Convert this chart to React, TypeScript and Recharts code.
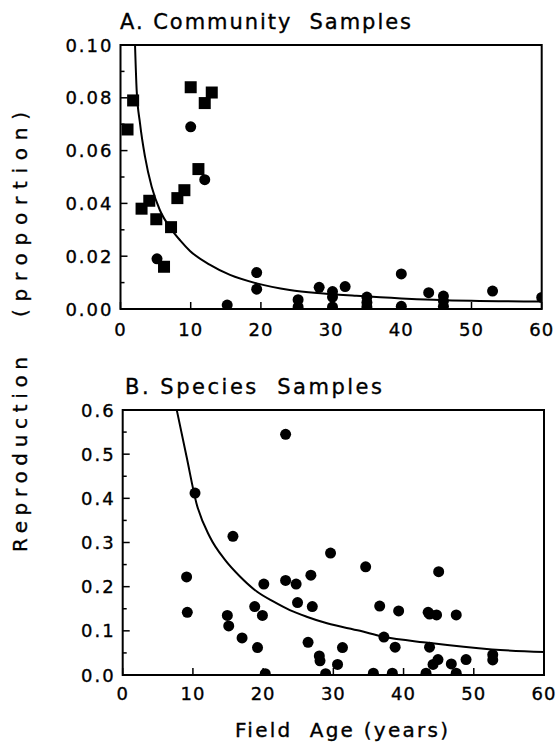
import React from "react";
import { ComposedChart, Scatter, Line, XAxis, YAxis, ReferenceArea } from "recharts";

const FONT = "'DejaVu Sans', sans-serif";

// ---- ticks ----
const xTicks = [0, 10, 20, 30, 40, 50, 60];
const xTickLabels = ["0", "10", "20", "30", "40", "50", "60"];

const yTicksA = [0, 0.01, 0.02, 0.03, 0.04, 0.05, 0.06, 0.07, 0.08, 0.09, 0.1];
const yMajorA = [0, 0.02, 0.04, 0.06, 0.08, 0.1];
const yLabelsA = ["0.00", "0.02", "0.04", "0.06", "0.08", "0.10"];

const yTicksB = [0, 0.05, 0.1, 0.15, 0.2, 0.25, 0.3, 0.35, 0.4, 0.45, 0.5, 0.55, 0.6];
const yMajorB = [0, 0.1, 0.2, 0.3, 0.4, 0.5, 0.6];
const yLabelsB = ["0.0", "0.1", "0.2", "0.3", "0.4", "0.5", "0.6"];

// ---- Panel A: community samples ----
const squaresA = [
  { x: 1.0, y: 0.068 }, { x: 1.8, y: 0.079 }, { x: 3.0, y: 0.038 }, { x: 4.1, y: 0.041 },
  { x: 5.1, y: 0.034 }, { x: 6.2, y: 0.016 }, { x: 7.2, y: 0.031 }, { x: 8.1, y: 0.042 },
  { x: 9.1, y: 0.045 }, { x: 10.0, y: 0.084 }, { x: 11.1, y: 0.053 }, { x: 12.0, y: 0.078 },
  { x: 13.0, y: 0.082 },
];
const circlesA = [
  { x: 5.2, y: 0.019 }, { x: 10.0, y: 0.069 }, { x: 12.0, y: 0.049 }, { x: 15.2, y: 0.0015 },
  { x: 19.4, y: 0.0138 }, { x: 19.4, y: 0.0075 }, { x: 25.3, y: 0.0035 }, { x: 25.3, y: 0.0008 },
  { x: 28.3, y: 0.0082 }, { x: 30.2, y: 0.0066 }, { x: 30.2, y: 0.0045 }, { x: 30.2, y: 0.0008 },
  { x: 32.0, y: 0.0085 }, { x: 35.1, y: 0.0045 }, { x: 35.1, y: 0.0025 }, { x: 35.1, y: 0.0008 },
  { x: 40.0, y: 0.0133 }, { x: 40.0, y: 0.001 }, { x: 43.9, y: 0.0062 }, { x: 46.0, y: 0.0049 },
  { x: 46.0, y: 0.003 }, { x: 46.0, y: 0.001 }, { x: 53.0, y: 0.0068 }, { x: 60.0, y: 0.0044 },
];
const curveA = [
  { x: 2.07, y: 0.1 }, { x: 2.3, y: 0.083 }, { x: 2.78, y: 0.0703 }, { x: 3.49, y: 0.0577 },
  { x: 4.44, y: 0.0463 }, { x: 5.6, y: 0.0375 }, { x: 7.3, y: 0.03 }, { x: 8.5, y: 0.026 },
  { x: 9.9, y: 0.022 }, { x: 12.7, y: 0.0168 }, { x: 15.6, y: 0.0129 }, { x: 19.4, y: 0.0097 },
  { x: 24.1, y: 0.0072 }, { x: 28.9, y: 0.0059 }, { x: 33.6, y: 0.005 }, { x: 40, y: 0.004 },
  { x: 50, y: 0.0031 }, { x: 60, y: 0.0028 },
];

// ---- Panel B: species samples ----
const circlesB = [
  { x: 23.2, y: 0.545 }, { x: 10.3, y: 0.412 }, { x: 15.7, y: 0.314 }, { x: 29.6, y: 0.276 },
  { x: 9.1, y: 0.222 }, { x: 9.2, y: 0.142 }, { x: 20.1, y: 0.206 }, { x: 23.2, y: 0.214 },
  { x: 24.7, y: 0.206 }, { x: 26.8, y: 0.226 }, { x: 24.9, y: 0.164 }, { x: 27.0, y: 0.155 },
  { x: 18.8, y: 0.155 }, { x: 19.9, y: 0.135 }, { x: 14.9, y: 0.135 }, { x: 15.1, y: 0.111 },
  { x: 17.0, y: 0.084 }, { x: 19.2, y: 0.062 }, { x: 26.4, y: 0.074 }, { x: 28.0, y: 0.043 },
  { x: 28.1, y: 0.032 }, { x: 30.6, y: 0.024 }, { x: 31.3, y: 0.062 }, { x: 20.3, y: 0.003 },
  { x: 28.9, y: 0.003 }, { x: 34.6, y: 0.245 }, { x: 45.0, y: 0.234 }, { x: 36.6, y: 0.156 },
  { x: 39.3, y: 0.145 }, { x: 43.5, y: 0.142 }, { x: 43.7, y: 0.138 }, { x: 44.7, y: 0.136 },
  { x: 47.5, y: 0.136 }, { x: 37.2, y: 0.086 }, { x: 38.8, y: 0.063 }, { x: 43.7, y: 0.063 },
  { x: 44.9, y: 0.035 }, { x: 44.2, y: 0.024 }, { x: 46.8, y: 0.025 }, { x: 47.5, y: 0.004 },
  { x: 48.9, y: 0.035 }, { x: 52.7, y: 0.046 }, { x: 52.7, y: 0.034 }, { x: 35.7, y: 0.004 },
  { x: 38.4, y: 0.004 }, { x: 43.2, y: 0.004 },
];
const curveB = [
  { x: 7.7, y: 0.6 }, { x: 9.1, y: 0.494 }, { x: 10.5, y: 0.389 }, { x: 12.4, y: 0.313 },
  { x: 14.6, y: 0.26 }, { x: 16.7, y: 0.223 }, { x: 19.1, y: 0.189 }, { x: 21.5, y: 0.166 },
  { x: 23.8, y: 0.147 }, { x: 26.2, y: 0.132 }, { x: 29.1, y: 0.117 }, { x: 33.8, y: 0.1 },
  { x: 37.0, y: 0.087 }, { x: 43.5, y: 0.073 }, { x: 52.6, y: 0.058 }, { x: 60, y: 0.052 },
];

const textStyle = { stroke: "#000", strokeWidth: 0.35 };

function makeYTick(majors: number[], labels: string[]) {
  return function YTick(props: any) {
    const { x, y, payload } = props;
    const v = payload.value;
    const idx = majors.findIndex((m) => Math.abs(m - v) < 1e-6);
    const len = idx >= 0 ? 7 : 4;
    return (
      <g>
        <line x1={x} x2={x + len} y1={y} y2={y} stroke="#000" strokeWidth={1.5} />
        {idx >= 0 && (
          <text x={x - 7} y={y} dy={6.5} textAnchor="end" fontSize={18} fontFamily={FONT}
            letterSpacing={2} fill="#000" style={textStyle}>{labels[idx]}</text>
        )}
      </g>
    );
  };
}

function makeXTick(baseDy: number) {
  return function XTick(props: any) {
    const { x, y, payload } = props;
    const idx = xTicks.findIndex((t) => Math.abs(t - payload.value) < 1e-6);
    return (
      <g>
        <line x1={x} x2={x} y1={y} y2={y - 7} stroke="#000" strokeWidth={1.5} />
        <text x={x} y={y + baseDy} textAnchor="middle" fontSize={18} fontFamily={FONT}
          letterSpacing={1} fill="#000" style={textStyle}>{xTickLabels[idx]}</text>
      </g>
    );
  };
}

const circleShape = (p: any) => <circle cx={p.cx} cy={p.cy} r={5.5} fill="#000" />;
const squareShape = (p: any) => <rect x={p.cx - 6} y={p.cy - 6} width={12} height={12} fill="#000" />;

export default function App() {
  return (
    <div style={{ position: "absolute", left: 0, top: 0, width: 559, height: 742, background: "#fff" }}>
      <div style={{ position: "absolute", left: 0, top: 0 }}>
        <ComposedChart width={559} height={340} margin={{ top: 45, right: 17.3, bottom: 1, left: 60.5 }}>
          <XAxis type="number" dataKey="x" domain={[0, 60]} ticks={xTicks} height={30}
            axisLine={false} tickLine={false} tickSize={0} tickMargin={0} tick={makeXTick(27)}
            allowDataOverflow interval={0} />
          <YAxis type="number" domain={[0, 0.1]} ticks={yTicksA} width={60}
            axisLine={false} tickLine={false} tickSize={0} tickMargin={0}
            tick={makeYTick(yMajorA, yLabelsA)} allowDataOverflow interval={0} />
          <ReferenceArea x1={0} x2={60} y1={0} y2={0.1} fill="none" fillOpacity={0} stroke="#000" strokeWidth={2} />
          <Line data={curveA} dataKey="y" type="monotone" stroke="#000" strokeWidth={2}
            dot={false} activeDot={false} isAnimationActive={false} />
          <Scatter data={circlesA} dataKey="y" shape={circleShape} isAnimationActive={false} />
          <Scatter data={squaresA} dataKey="y" shape={squareShape} isAnimationActive={false} />
        </ComposedChart>
      </div>
      <div style={{ position: "absolute", left: 0, top: 360 }}>
        <ComposedChart width={559} height={382} margin={{ top: 50, right: 15, bottom: 37, left: 62.7 }}>
          <XAxis type="number" dataKey="x" domain={[0, 60]} ticks={xTicks} height={30}
            axisLine={false} tickLine={false} tickSize={0} tickMargin={0} tick={makeXTick(25)}
            allowDataOverflow interval={0} />
          <YAxis type="number" domain={[0, 0.6]} ticks={yTicksB} width={60}
            axisLine={false} tickLine={false} tickSize={0} tickMargin={0}
            tick={makeYTick(yMajorB, yLabelsB)} allowDataOverflow interval={0} />
          <ReferenceArea x1={0} x2={60} y1={0} y2={0.6} fill="none" fillOpacity={0} stroke="#000" strokeWidth={2} />
          <Line data={curveB} dataKey="y" type="monotone" stroke="#000" strokeWidth={2}
            dot={false} activeDot={false} isAnimationActive={false} />
          <Scatter data={circlesB} dataKey="y" shape={circleShape} isAnimationActive={false} />
        </ComposedChart>
      </div>
      <svg style={{ position: "absolute", left: 0, top: 0, pointerEvents: "none" }} width={559} height={742}>
        <text x={120} y={29} fontSize={21} fontFamily={FONT} fill="#000" textLength={291}
          lengthAdjust="spacing" style={{ whiteSpace: "pre", ...textStyle }}>A. Community  Samples</text>
        <text x={125} y={394} fontSize={21} fontFamily={FONT} fill="#000" textLength={257}
          lengthAdjust="spacing" style={{ whiteSpace: "pre", ...textStyle }}>B. Species  Samples</text>
        <text x={27} y={552} transform="rotate(-90, 27, 552)" fontSize={20} fontFamily={FONT}
          fill="#000" textLength={195} lengthAdjust="spacing" style={textStyle}>Reproduction</text>
        <text x={27} y={317} transform="rotate(-90, 27, 317)" fontSize={20} fontFamily={FONT}
          fill="#000" textLength={205} lengthAdjust="spacing" style={textStyle}>(proportion)</text>
        <text x={235} y={737} fontSize={20} fontFamily={FONT} fill="#000" textLength={213}
          lengthAdjust="spacing" style={{ whiteSpace: "pre", ...textStyle }}>Field  Age (years)</text>
      </svg>
    </div>
  );
}
